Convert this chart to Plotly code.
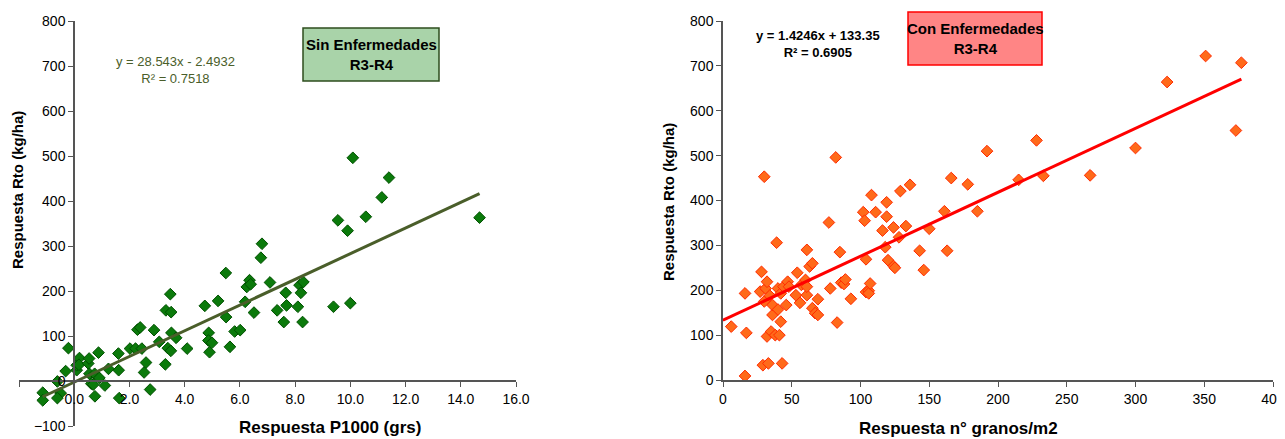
import plotly.graph_objects as go

# Sin Enfermedades: respuesta P1000 (grs) vs respuesta rendimiento (kg/ha)
p1000_x = [-1.14, -1.14, -0.61, -0.49, -0.61, -0.31, -0.21, 0.09, 0.09, 0.19, 0.17, 0.51, 0.54, 0.55,
           0.62, 0.69, 0.74, 0.75, 0.88, 0.91, 1.11, 1.24, 1.6, 1.61, 1.63, 2.02, 2.22, 2.29, 2.39,
           2.45, 2.53, 2.6, 2.75, 2.89, 3.08, 3.3, 3.32, 3.39, 3.48, 3.5, 3.51, 3.52, 3.69, 4.09,
           4.73, 4.87, 4.86, 4.9, 4.99, 5.21, 5.49, 5.5, 5.64, 5.81, 6.01, 6.19, 6.25, 6.35, 6.39,
           6.51, 6.76, 6.8, 7.09, 7.35, 7.59, 7.66, 7.69, 8.1, 8.16, 8.21, 8.27, 8.3, 9.39, 9.55,
           9.9, 10.0, 10.09, 10.56, 11.14, 11.4, 14.68]
p1000_y = [-26, -43, -1, -27, -38, 22, 73, 24, 35, 51, 36, 39, 50, 16,
           -6, -8, 16, -34, 63, 7, -10, 27, 61, 24, -38, 72, 72, 114, 119,
           72, 19, 41, -19, 113, 87, 37, 157, 73, 193, 67, 153, 107, 96, 72,
           167, 107, 90, 64, 85, 178, 240, 142, 76, 110, 113, 176, 209, 224, 215,
           152, 274, 305, 219, 157, 131, 196, 168, 165, 213, 196, 131, 220, 165, 357,
           334, 173, 496, 365, 408, 452, 363]

# Con Enfermedades: respuesta n° granos/m2 vs respuesta rendimiento (kg/ha)
granos_x = [6, 16, 16, 17, 28, 27, 29, 30, 30, 31, 32, 32, 33, 34, 35, 36, 36, 38, 39, 40, 40, 41,
            42, 42, 43, 44, 46, 47, 48, 53, 54, 56, 57, 60, 61, 61, 61, 63, 65, 65, 67, 69, 69,
            77, 78, 82, 83, 85, 86, 88, 89, 93, 102, 103, 104, 104, 106, 106, 107, 108, 111,
            116, 118, 119, 119, 120, 124, 124, 125, 128, 129, 133, 136, 143, 146, 150, 161,
            163, 166, 178, 185, 192, 215, 228, 233, 267, 300, 323, 351, 373, 377]
granos_y = [119, 193, 9, 105, 241, 197, 33, 453, 175, 204, 219, 97, 37, 188, 108, 145, 167, 100,
            306, 204, 157, 100, 130, 193, 37, 208, 167, 219, 208, 189, 239, 172, 212, 223, 189,
            290, 208, 253, 260, 160, 149, 145, 180, 351, 204, 496, 128, 285, 217, 214, 224, 181,
            374, 355, 269, 196, 199, 193, 215, 412, 374, 333, 296, 364, 396, 267, 340, 254, 250,
            318, 421, 343, 435, 288, 245, 337, 376, 288, 450, 436, 376, 510, 446, 534, 455, 456,
            517, 664, 722, 556, 707]

# lineas de tendencia (coeficientes de la planilla)
trend1 = [28.543, -2.4932]
trend2 = [1.4246, 133.35]
trend1_x = [-1.14, 14.68]
trend2_x = [0, 377]

FONT = "Liberation Sans Narrow, Liberation Sans, Arial"
W, H = 1277, 431   # la pagina tiene 8px de margen


def px(x):
    return (x - 8) / W


def py(y):
    return 1 - (y - 8) / H


fig = go.Figure()
fig.add_trace(go.Scatter(x=p1000_x, y=p1000_y, mode="markers", xaxis="x", yaxis="y",
                         marker=dict(symbol="diamond", size=9, color="#0b7a0b",
                                     line=dict(color="#005000", width=1))))
fig.add_trace(go.Scatter(x=trend1_x, y=[trend1[0] * v + trend1[1] for v in trend1_x],
                         mode="lines", xaxis="x", yaxis="y",
                         line=dict(color="#4a5e2a", width=3)))
fig.add_trace(go.Scatter(x=granos_x, y=granos_y, mode="markers", xaxis="x2", yaxis="y2",
                         marker=dict(symbol="diamond", size=9, color="#ff6a1a",
                                     line=dict(color="#ff2a00", width=1))))
fig.add_trace(go.Scatter(x=trend2_x, y=[trend2[0] * v + trend2[1] for v in trend2_x],
                         mode="lines", xaxis="x2", yaxis="y2",
                         line=dict(color="#ff0000", width=3)))

tick_font = dict(family=FONT, size=14, color="black")
common = dict(showgrid=False, zeroline=False, showline=True, linecolor="#555", linewidth=1.5,
              ticks="outside", ticklen=5, tickcolor="#555", tickfont=tick_font)

fig.update_layout(
    width=W, height=H, showlegend=False,
    plot_bgcolor="white", paper_bgcolor="white",
    margin=dict(l=0, r=0, t=0, b=0, autoexpand=False),
    xaxis=dict(domain=[px(19), px(516)], range=[-2, 16], dtick=2, tickformat=".1f",
               anchor="free", position=py(381), **common),
    yaxis=dict(domain=[py(426), py(21)], range=[-100, 800], dtick=100,
               anchor="free", position=px(74), **common),
    xaxis2=dict(domain=[px(723), px(1273)], range=[0, 400], dtick=50,
                anchor="y2", **common),
    yaxis2=dict(domain=[py(380), py(21)], range=[0, 800], dtick=100,
                anchor="x2", **common),
)


def note(text, x, y, font, angle=0):
    fig.add_annotation(text=text, x=px(x), y=py(y), xref="paper", yref="paper",
                       xanchor="center", yanchor="middle", showarrow=False,
                       textangle=angle, font=font)


title_font = dict(family=FONT, size=17, color="black")
ytitle_font = dict(family="Liberation Sans, Arial", size=15, color="black")
note("<b>Respuesta P1000 (grs)</b>", 330, 427, title_font)
note("<b>Respuesta n° granos/m2</b>", 958, 428, title_font)
note("<b>Respuesta Rto (kg/ha)</b>", 18, 190, ytitle_font, -90)
note("<b>Respuesta Rto (kg/ha)</b>", 668, 202, ytitle_font, -90)
note("y = 28.543x - 2.4932<br>R² = 0.7518", 175, 70,
     dict(family=FONT, size=13, color="#4a5e2a"))
note("<b>y = 1.4246x + 133.35<br>R² = 0.6905</b>", 818, 44,
     dict(family=FONT, size=13, color="black"))

fig.add_shape(type="rect", xref="paper", yref="paper", x0=px(303), x1=px(439),
              y0=py(81), y1=py(28), fillcolor="#a9d3a9",
              line=dict(color="#2e4d1e", width=1.5))
note("<b>Sin Enfermedades<br>R3-R4</b>", 371, 54.5, dict(family=FONT, size=15, color="black"))
fig.add_shape(type="rect", xref="paper", yref="paper", x0=px(908), x1=px(1042),
              y0=py(65), y1=py(12), fillcolor="#ff8585",
              line=dict(color="#ff0000", width=1.5))
note("<b>Con Enfermedades<br>R3-R4</b>", 975, 38.5, dict(family=FONT, size=15, color="black"))

fig.write_html("out.html")
